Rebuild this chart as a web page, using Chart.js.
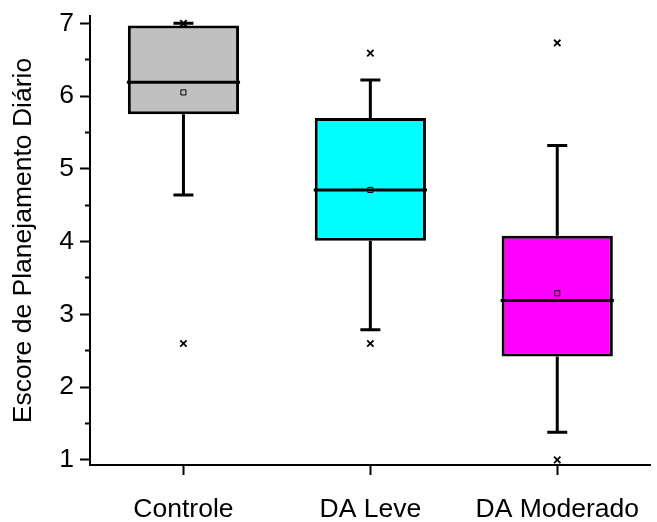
<!DOCTYPE html>
<html>
<head>
<meta charset="UTF-8">
<title>Escore de Planejamento Diário</title>
<script src="https://cdn.jsdelivr.net/npm/chart.js"></script>
<style>
  body { margin: 0; background: #fff; }
</style>
</head>
<body>
<canvas id="boxChart" width="657" height="522"></canvas>
<script>
  // values
  const groups = ['Controle', 'DA Leve', 'DA Moderado'];
  const q1 = [5.75, 4.01, 2.42];
  const q3 = [6.97, 5.70, 4.08];
  const medians = [6.19, 4.71, 3.19];
  const means = [6.05, 4.71, 3.29];
  const whiskLow = [4.64, 2.79, 1.38];
  const whiskHigh = [7.0, 6.22, 5.32];
  const outliers = [[7.0, 2.6], [6.59, 2.6], [6.73, 1.0]];
  const yTicks = [1, 1.5, 2, 2.5, 3, 3.5, 4, 4.5, 5, 5.5, 6, 6.5, 7];
  const yTitle = 'Escore de Planejamento Diário';
  const boxColors = ['#c0c0c0', '#00ffff', '#ff00ff'];

  const font = { family: "'Liberation Sans', Arial, sans-serif", size: 26.5 };

  // whiskers + median line, drawn right after the boxes
  const boxParts = {
    id: 'boxParts',
    afterDatasetDraw(chart, args) {
      if (args.index !== 0) return;
      const { ctx, scales: { x, y } } = chart;
      const bars = chart.getDatasetMeta(0).data;
      ctx.save();
      ctx.strokeStyle = '#000';
      ctx.lineWidth = 3;
      groups.forEach((g, i) => {
        const cx = x.getPixelForValue(i);
        const half = bars[i].width / 2;
        const cap = 10;
        const yq1 = y.getPixelForValue(q1[i]);
        const yq3 = y.getPixelForValue(q3[i]);
        const ylo = y.getPixelForValue(whiskLow[i]);
        const yhi = y.getPixelForValue(whiskHigh[i]);
        const ymed = y.getPixelForValue(medians[i]);
        ctx.beginPath();
        ctx.moveTo(cx, yq1); ctx.lineTo(cx, ylo);
        ctx.moveTo(cx - cap, ylo); ctx.lineTo(cx + cap, ylo);
        ctx.moveTo(cx, yq3); ctx.lineTo(cx, yhi);
        ctx.moveTo(cx - cap, yhi); ctx.lineTo(cx + cap, yhi);
        ctx.moveTo(cx - half - 1, ymed); ctx.lineTo(cx + half + 1, ymed);
        ctx.stroke();
      });
      ctx.restore();
    }
  };

  new Chart(document.getElementById('boxChart'), {
    type: 'bar',
    data: {
      labels: groups,
      datasets: [
        {
          data: groups.map((g, i) => [q1[i], q3[i]]),
          backgroundColor: boxColors,
          borderColor: '#000',
          borderWidth: 3,
          borderSkipped: false,
          barPercentage: 0.595,
          categoryPercentage: 1,
          order: 2
        },
        {
          type: 'line',
          data: means,
          showLine: false,
          pointStyle: 'rect',
          pointRadius: 3.6,
          pointBorderWidth: 1,
          pointBorderColor: '#000',
          pointBackgroundColor: 'rgba(0,0,0,0)',
          order: 0
        },
        {
          type: 'line',
          data: groups.flatMap((g, i) => outliers[i].map(v => ({ x: g, y: v }))),
          showLine: false,
          pointStyle: 'crossRot',
          pointRadius: 4.5,
          pointBorderWidth: 1.8,
          pointBorderColor: '#000',
          order: 0
        }
      ]
    },
    options: {
      responsive: false,
      animation: false,
      events: [],
      layout: { padding: { top: 16, right: 5, left: 0, bottom: 0 } },
      plugins: { legend: { display: false }, tooltip: { enabled: false } },
      scales: {
        x: {
          offset: true,
          afterFit: s => { s.height = 57; s.paddingLeft = 0; s.paddingRight = 0; },
          border: { color: '#000', width: 2 },
          grid: { offset: false, drawOnChartArea: false, tickLength: 10, tickColor: '#000', tickWidth: 2 },
          ticks: { color: '#000', font: font, padding: 19 }
        },
        y: {
          min: 0.93,
          max: 7.1,
          afterBuildTicks: s => { s.ticks = yTicks.map(v => ({ value: v })); },
          afterFit: s => { s.width = 90; s.paddingTop = 0; s.paddingBottom = 0; },
          border: { color: '#000', width: 2 },
          grid: {
            drawOnChartArea: false,
            tickLength: 10,
            tickColor: '#000',
            tickWidth: 2,
            tickBorderDash: c => (c.tick && c.tick.value % 1 ? [0, 5, 5, 0] : [])
          },
          ticks: {
            color: '#000',
            font: font,
            padding: 6,
            autoSkip: false,
            callback: v => (Number.isInteger(v) ? String(v) : '')
          },
          title: { display: true, text: yTitle, color: '#000', font: font, padding: { top: 8, bottom: 0 } }
        }
      }
    },
    plugins: [boxParts]
  });
</script>
</body>
</html>
